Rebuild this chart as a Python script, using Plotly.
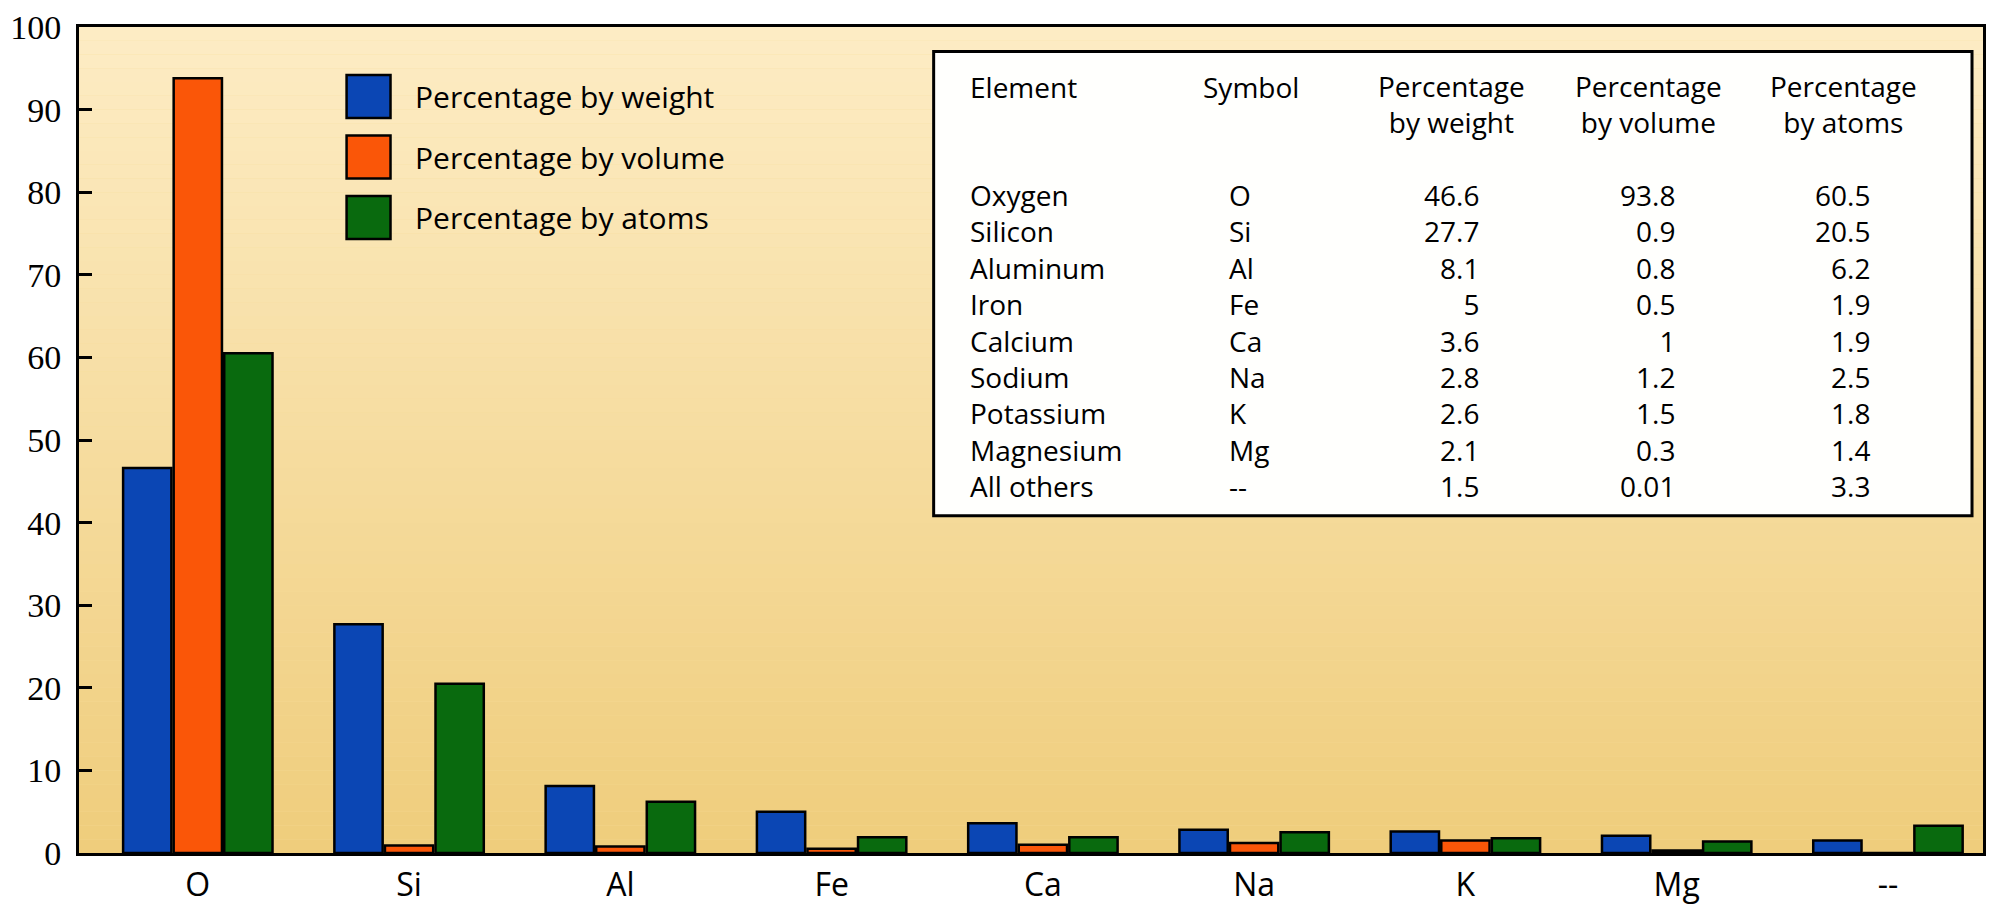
import plotly.graph_objects as go

# ---------------- data ----------------
categories = ["O", "Si", "Al", "Fe", "Ca", "Na", "K", "Mg", "--"]
element_names = ["Oxygen", "Silicon", "Aluminum", "Iron", "Calcium",
                 "Sodium", "Potassium", "Magnesium", "All others"]
pct_weight = [46.6, 27.7, 8.1, 5, 3.6, 2.8, 2.6, 2.1, 1.5]
pct_volume = [93.8, 0.9, 0.8, 0.5, 1, 1.2, 1.5, 0.3, 0.01]
pct_atoms = [60.5, 20.5, 6.2, 1.9, 1.9, 2.5, 1.8, 1.4, 3.3]
series_names = ["Percentage by weight", "Percentage by volume", "Percentage by atoms"]
y_tick_values = [0, 10, 20, 30, 40, 50, 60, 70, 80, 90, 100]
table_headers = ["Element", "Symbol", "Percentage|by weight",
                 "Percentage|by volume", "Percentage|by atoms"]

# ---------------- style ----------------
# The page body has an 8px default margin, so the figure is sized to fit
# inside the 1995x914 window and all positions below are window pixels.
OFF = 8
WIN_W, WIN_H = 1995, 914
FIG_W, FIG_H = WIN_W - 2 * OFF, WIN_H - 2 * OFF
PLOT_L, PLOT_R, PLOT_T, PLOT_B = 79, 1986, 23, 868  # window pixels
L = PLOT_L - OFF
T = PLOT_T - OFF
R = FIG_W - (PLOT_R - OFF)
B = FIG_H - (PLOT_B - OFF)

colors = ["#0B46B4", "#FA5608", "#096A0E"]
SANS = "Open Sans, Noto Sans, sans-serif"
SERIF = "Liberation Serif, Times New Roman, serif"


def px_x(x):
    return (x - PLOT_L) / (PLOT_R - PLOT_L)


def px_y(y):
    return (PLOT_B - y) / (PLOT_B - PLOT_T)


fig = go.Figure()
for name, vals, col in zip(series_names, [pct_weight, pct_volume, pct_atoms], colors):
    fig.add_trace(go.Bar(
        x=categories, y=vals, name=name,
        marker=dict(color=col, line=dict(color="black", width=2.5)),
        showlegend=False,
    ))

shapes = []
# vertical gradient background of the plot area
top_c = (253, 236, 196)
bot_c = (239, 205, 124)
N = 60
for i in range(N):
    t = i / (N - 1)
    c = tuple(round(top_c[k] + (bot_c[k] - top_c[k]) * t) for k in range(3))
    shapes.append(dict(type="rect", xref="paper", yref="paper",
                       x0=0, x1=1, y0=1 - (i + 1) / N, y1=1 - i / N,
                       fillcolor="rgb(%d,%d,%d)" % c, line=dict(width=0),
                       layer="below"))

# custom legend
legend_rows_y = [94, 156, 218]
annotations = []
for name, col, yc in zip(series_names, colors, legend_rows_y):
    shapes.append(dict(type="rect", xref="paper", yref="paper",
                       x0=px_x(347), x1=px_x(391), y0=px_y(yc + 22), y1=px_y(yc - 22),
                       fillcolor=col, line=dict(color="black", width=2.5)))
    annotations.append(dict(xref="paper", yref="paper", x=px_x(414), y=px_y(yc),
                            text=name, showarrow=False, xanchor="left", yanchor="middle",
                            font=dict(family=SANS, size=30, color="black")))

# table box
shapes.append(dict(type="rect", xref="paper", yref="paper",
                   x0=px_x(935), x1=px_x(1975), y0=px_y(523), y1=px_y(48),
                   fillcolor="#FFFFFD", line=dict(color="black", width=3)))

FS = 28
LINE = FS * 1.3  # plotly line spacing
tfont = dict(family=SANS, size=FS, color="black")

# header cells (one multi-line annotation each)
hdr_pos = [(969, "left"), (1203, "left"), (1454, "center"), (1651, "center"), (1846, "center")]
hdr_top = 84
for hdr, (x, anc) in zip(table_headers, hdr_pos):
    lines = hdr.split("|")
    yc = hdr_top + LINE * (len(lines) - 1) / 2
    annotations.append(dict(xref="paper", yref="paper", x=px_x(x), y=px_y(yc),
                            text="<br>".join(lines), showarrow=False,
                            xanchor=anc, yanchor="middle", align=anc, font=tfont))

# body columns (one multi-line annotation per column)
body_cols = [
    (element_names, 969, "left"),
    (categories, 1229, "left"),
    ([f"{v:g}" for v in pct_weight], 1483, "right"),
    ([f"{v:g}" for v in pct_volume], 1680, "right"),
    ([f"{v:g}" for v in pct_atoms], 1875, "right"),
]
row_first = 198
for vals, x, anc in body_cols:
    yc = row_first + LINE * (len(vals) - 1) / 2
    annotations.append(dict(xref="paper", yref="paper", x=px_x(x), y=px_y(yc),
                            text="<br>".join(vals), showarrow=False,
                            xanchor=anc, yanchor="middle", align=anc, font=tfont))

# category axis range so that the groups sit where they do in the reference
cat_step = 211.6
x_lo = -119 / cat_step
x_hi = x_lo + (PLOT_R - PLOT_L) / cat_step

fig.update_layout(
    width=FIG_W, height=FIG_H,
    margin=dict(l=L, r=R, t=T, b=B, pad=0),
    paper_bgcolor="white", plot_bgcolor="#F6DC9A",
    barmode="group", bargap=0.282, bargroupgap=0.045,
    shapes=shapes, annotations=annotations,
    showlegend=False,
)
fig.update_xaxes(
    type="category", range=[x_lo, x_hi],
    showline=True, linecolor="black", linewidth=3, mirror=True,
    ticks="", showgrid=False, zeroline=False,
    tickfont=dict(family=SANS, size=32, color="black"),
    ticklabelstandoff=2,
)
fig.update_yaxes(
    range=[0, 100], tickvals=y_tick_values,
    showline=True, linecolor="black", linewidth=3, mirror=True,
    ticks="inside", ticklen=13, tickwidth=3, tickcolor="black",
    showgrid=False, zeroline=False,
    tickfont=dict(family=SERIF, size=34, color="black"),
    ticklabelstandoff=8, ticklabeloverflow="allow",
)

fig.write_html("out.html")
